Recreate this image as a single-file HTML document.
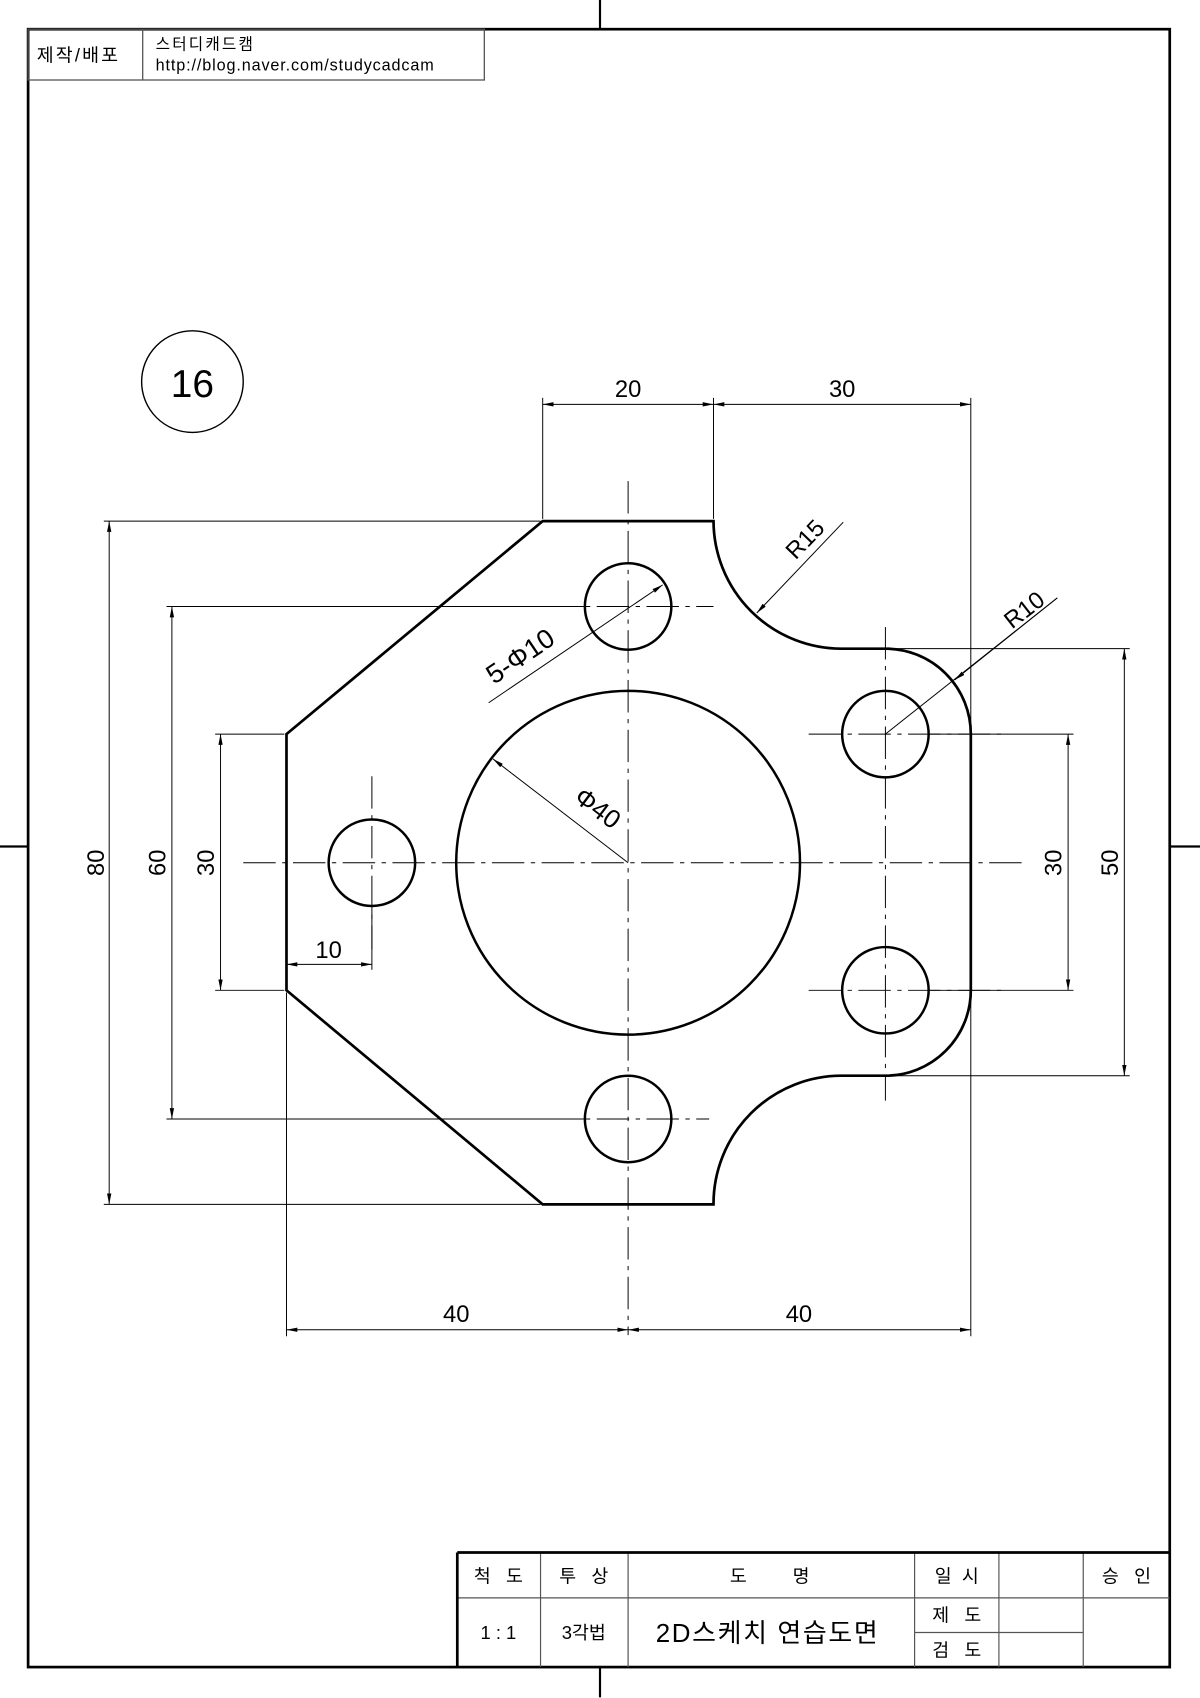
<!DOCTYPE html>
<html><head><meta charset="utf-8"><style>
html,body{margin:0;padding:0;background:#fff}
svg{display:block}
text{font-family:"Liberation Sans","Noto Sans CJK KR",sans-serif;fill:#000}
</style></head><body>
<svg width="1200" height="1698" viewBox="0 0 1110 1570.6" preserveAspectRatio="none" xmlns="http://www.w3.org/2000/svg">
<defs>
<marker id="a" viewBox="0 0 10 4" refX="10" refY="2" markerWidth="10" markerHeight="4" orient="auto-start-reverse" markerUnits="userSpaceOnUse"><path d="M0,0 L10,2 L0,4 z" fill="#000"/></marker>
</defs>
<rect x="26" y="27" width="1056" height="1515" fill="none" stroke="#000" stroke-width="2.5"/>
<g stroke="#000" stroke-width="2">
<line x1="555" y1="0" x2="555" y2="27"/><line x1="555" y1="1542" x2="555" y2="1570"/>
<line x1="0" y1="783" x2="26" y2="783"/><line x1="1082" y1="783" x2="1110" y2="783"/>
</g>
<g stroke="#555" stroke-width="1.2" fill="none">
<rect x="26" y="27" width="422" height="47"/><line x1="132" y1="27" x2="132" y2="74"/>
</g>
<text x="34" y="57" font-size="17" letter-spacing="2">제작/배포</text>
<text x="144" y="46" font-size="14.5" letter-spacing="2">스터디캐드캠</text>
<text x="144" y="65" font-size="15" letter-spacing="0.8">http://blog.naver.com/studycadcam</text>
<circle cx="178" cy="353" r="47" fill="none" stroke="#000" stroke-width="1.3"/>
<text x="178" y="367" font-size="36" text-anchor="middle">16</text>
<g stroke="#000" stroke-width="0.9" stroke-dasharray="30,6,4,6" fill="none">
<line x1="581" y1="445" x2="581" y2="1235"/>
<line x1="225" y1="798" x2="950" y2="798"/>
<line x1="506" y1="561" x2="660" y2="561"/><line x1="506" y1="1035" x2="656" y2="1035"/>
<line x1="344" y1="718" x2="344" y2="878"/>
<line x1="748" y1="679" x2="930" y2="679"/><line x1="748" y1="916" x2="930" y2="916"/>
<line x1="819" y1="580" x2="819" y2="1018"/>
</g>
<path d="M502,482 L660,482 A118.5,118.5 0 0 0 779,600 L819,600 A79,79 0 0 1 898,679 L898,916 A79,79 0 0 1 819,995 L779,995 A118.5,118.5 0 0 0 660,1114 L502,1114 L265,916 L265,679 Z" fill="none" stroke="#000" stroke-width="2.5"/>
<g fill="none" stroke="#000" stroke-width="2.3">
<circle cx="581" cy="798" r="159"/>
<circle cx="581" cy="561" r="40"/><circle cx="581" cy="1035" r="40"/>
<circle cx="344" cy="798" r="40"/><circle cx="819" cy="679" r="40"/><circle cx="819" cy="916" r="40"/>
</g>
<g stroke="#000" stroke-width="0.9">
<line x1="502" y1="368" x2="502" y2="480"/><line x1="660" y1="368" x2="660" y2="480"/><line x1="898" y1="368" x2="898" y2="676"/>
<line x1="96" y1="482" x2="500" y2="482"/><line x1="96" y1="1114" x2="500" y2="1114"/>
<line x1="154" y1="561" x2="540" y2="561"/><line x1="154" y1="1035" x2="540" y2="1035"/>
<line x1="199" y1="679" x2="263" y2="679"/><line x1="199" y1="916" x2="263" y2="916"/>
<line x1="344" y1="840" x2="344" y2="897"/>
<line x1="860" y1="679" x2="993" y2="679"/><line x1="860" y1="916" x2="993" y2="916"/>
<line x1="822" y1="600" x2="1045" y2="600"/><line x1="822" y1="995" x2="1045" y2="995"/>
<line x1="265" y1="918" x2="265" y2="1236"/><line x1="898" y1="918" x2="898" y2="1236"/>
</g>
<g stroke="#000" stroke-width="0.9" marker-start="url(#a)" marker-end="url(#a)">
<line x1="502" y1="374" x2="660" y2="374"/><line x1="660" y1="374" x2="898" y2="374"/>
<line x1="101" y1="482" x2="101" y2="1114"/>
<line x1="159" y1="561" x2="159" y2="1035"/>
<line x1="204" y1="679" x2="204" y2="916"/>
<line x1="265" y1="892" x2="344" y2="892"/>
<line x1="988" y1="679" x2="988" y2="916"/>
<line x1="1040" y1="600" x2="1040" y2="995"/>
<line x1="265" y1="1230" x2="581" y2="1230"/><line x1="581" y1="1230" x2="898" y2="1230"/>
</g>
<g stroke="#000" stroke-width="0.9">
<line x1="780" y1="483" x2="700" y2="567" marker-end="url(#a)"/>
<line x1="978" y1="553" x2="819" y2="679"/><line x1="978" y1="553" x2="883" y2="629" marker-end="url(#a)"/>
<line x1="581" y1="798" x2="456" y2="702" marker-end="url(#a)"/>
<line x1="452" y1="650" x2="613" y2="541" marker-end="url(#a)"/>
</g>
<g font-size="22" text-anchor="middle">
<text x="581" y="367">20</text><text x="779" y="367">30</text>
<text x="422" y="1223">40</text><text x="739" y="1223">40</text>
<text x="304" y="886">10</text>
<text transform="translate(96,798) rotate(-90)">80</text>
<text transform="translate(153,798) rotate(-90)">60</text>
<text transform="translate(198,798) rotate(-90)">30</text>
<text transform="translate(982,798) rotate(-90)">30</text>
<text transform="translate(1034,798) rotate(-90)">50</text>
<text transform="translate(750,504) rotate(-46)">R15</text>
<text transform="translate(952,570) rotate(-38)">R10</text>
<text transform="translate(548,754) rotate(37)" font-size="24">Φ40</text>
<text transform="translate(486,614) rotate(-34)" font-size="25">5-Φ10</text>
</g>
<g stroke="#555" stroke-width="1.1">
<line x1="423" y1="1478" x2="1082" y2="1478"/>
<line x1="500" y1="1436" x2="500" y2="1542"/><line x1="581" y1="1436" x2="581" y2="1542"/>
<line x1="846" y1="1436" x2="846" y2="1542"/><line x1="924" y1="1436" x2="924" y2="1542"/>
<line x1="1002" y1="1436" x2="1002" y2="1542"/>
<line x1="846" y1="1510" x2="1002" y2="1510"/>
</g>
<g stroke="#000" stroke-width="2.5"><line x1="423" y1="1436" x2="1082" y2="1436"/><line x1="423" y1="1436" x2="423" y2="1542"/></g>
<g font-size="17" text-anchor="middle">
<text x="461" y="1464">척&#160;&#160;&#160;도</text><text x="540" y="1464">투&#160;&#160;&#160;상</text>
<text x="712" y="1464">도&#160;&#160;&#160;&#160;&#160;&#160;&#160;&#160;&#160;명</text>
<text x="885" y="1464">일&#160;&#160;시</text><text x="1042" y="1464">승&#160;&#160;&#160;인</text>
<text x="461" y="1516">1&#160;:&#160;1</text><text x="540" y="1516">3각법</text>
<text x="885" y="1500">제&#160;&#160;&#160;도</text><text x="885" y="1532">검&#160;&#160;&#160;도</text>
</g>
<text x="710" y="1519" font-size="24" text-anchor="middle" letter-spacing="1.5">2D스케치 연습도면</text>
</svg>
</body></html>
